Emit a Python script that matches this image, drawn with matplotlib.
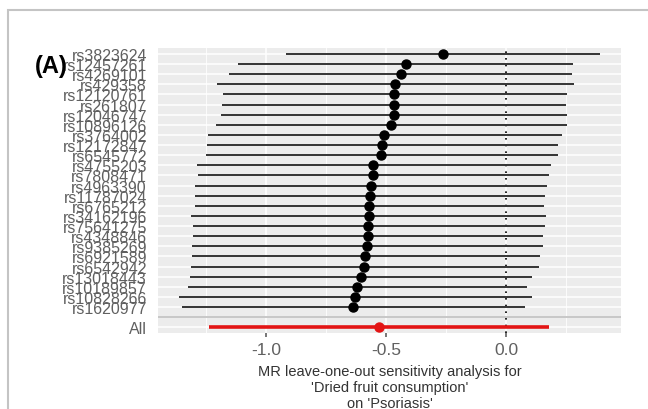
import matplotlib
matplotlib.use('Agg')
import matplotlib.pyplot as plt
from matplotlib.patches import Rectangle

plt.rcParams['font.family'] = ['Liberation Sans', 'DejaVu Sans']

# leave-one-out results, top row first
snps = ['rs3823624', 'rs12457261', 'rs4269101', 'rs429358', 'rs12120761',
        'rs261807', 'rs12046747', 'rs10896126', 'rs3764002', 'rs12172847',
        'rs6545772', 'rs4755203', 'rs7808471', 'rs4963390', 'rs11787024',
        'rs6765212', 'rs34162196', 'rs75641275', 'rs4348846', 'rs9385269',
        'rs6921589', 'rs6542942', 'rs13018443', 'rs10189857', 'rs10828266',
        'rs1620977']
b = [-0.264, -0.418, -0.439, -0.464, -0.465, -0.468, -0.467, -0.479, -0.507,
     -0.517, -0.519, -0.553, -0.556, -0.562, -0.567, -0.569, -0.572, -0.574,
     -0.575, -0.578, -0.586, -0.592, -0.606, -0.620, -0.628, -0.638]
lo = [-0.917, -1.118, -1.154, -1.206, -1.181, -1.185, -1.188, -1.210, -1.243,
      -1.247, -1.251, -1.286, -1.285, -1.296, -1.296, -1.296, -1.311, -1.306,
      -1.303, -1.310, -1.307, -1.314, -1.317, -1.327, -1.361, -1.351]
up = [0.392, 0.281, 0.276, 0.283, 0.253, 0.250, 0.256, 0.253, 0.232, 0.218,
      0.215, 0.186, 0.178, 0.169, 0.163, 0.158, 0.165, 0.161, 0.156, 0.156,
      0.143, 0.136, 0.110, 0.088, 0.107, 0.078]
all_b, all_lo, all_up = -0.530, -1.238, 0.179

W, H = 648, 410
fig = plt.figure(figsize=(W / 100, H / 100), dpi=100)
fig.patch.set_facecolor('white')
fig.patches.append(Rectangle((8 / W, -0.1), 2, 1.1 - 11 / H, transform=fig.transFigure,
                             fill=False, edgecolor='#c4c4c4', lw=1.5))

ax = fig.add_axes([158 / W, 1 - 334.4 / H, (621 - 158) / W, (334.4 - 48.9) / H])
ax.set_facecolor('#ececec')
for s in ax.spines.values():
    s.set_visible(False)

n = len(snps)
ypos = [n + 2 - i for i in range(n)]  # SNPs at 28..3, blank at 2, All at 1

ax.set_yticks(ypos + [2, 1])
ax.set_yticklabels(snps + ['', 'All'])
ax.set_ylim(0.4, n + 2.6)
ax.set_xlim(-1.45, 0.479)
ax.set_xticks([-1.0, -0.5, 0.0])
ax.set_xticklabels(['-1.0', '-0.5', '0.0'])
ax.set_xticks([-1.25, -0.75, -0.25, 0.25], minor=True)
ax.grid(True, which='major', color='white', lw=1.1)
ax.grid(True, which='minor', axis='x', color='white', lw=0.6)
ax.set_axisbelow(True)
ax.tick_params(axis='both', which='major', colors='#606060', length=3, width=1.2)
ax.tick_params(axis='y', length=0, pad=8, labelsize=11.5)
ax.tick_params(axis='x', pad=3, labelsize=12.5)
ax.tick_params(which='minor', length=0)

ax.axvline(0, color='black', ls=(0, (1, 3)), lw=1.2, zorder=2)
ax.axhline(2, color='#bebebe', lw=1.2, zorder=2)

ax.hlines(ypos, lo, up, color='#333333', lw=1.4, zorder=3)
ax.plot(b, ypos, 'o', color='black', ms=6.5, zorder=4)
ax.hlines(1, all_lo, all_up, color='#e31414', lw=2.6, zorder=3)
ax.plot([all_b], [1], 'o', color='#e31414', ms=6.5, zorder=4)

ax.set_xlabel("MR leave-one-out sensitivity analysis for\n'Dried fruit consumption'\non 'Psoriasis'",
              fontsize=10.5, color='#333333', labelpad=5, linespacing=1.2)

fig.text(35 / W, 1 - 66 / H, '(A)', fontsize=17, fontweight='bold', va='center', ha='left')

fig.savefig('out.png', dpi=100)
